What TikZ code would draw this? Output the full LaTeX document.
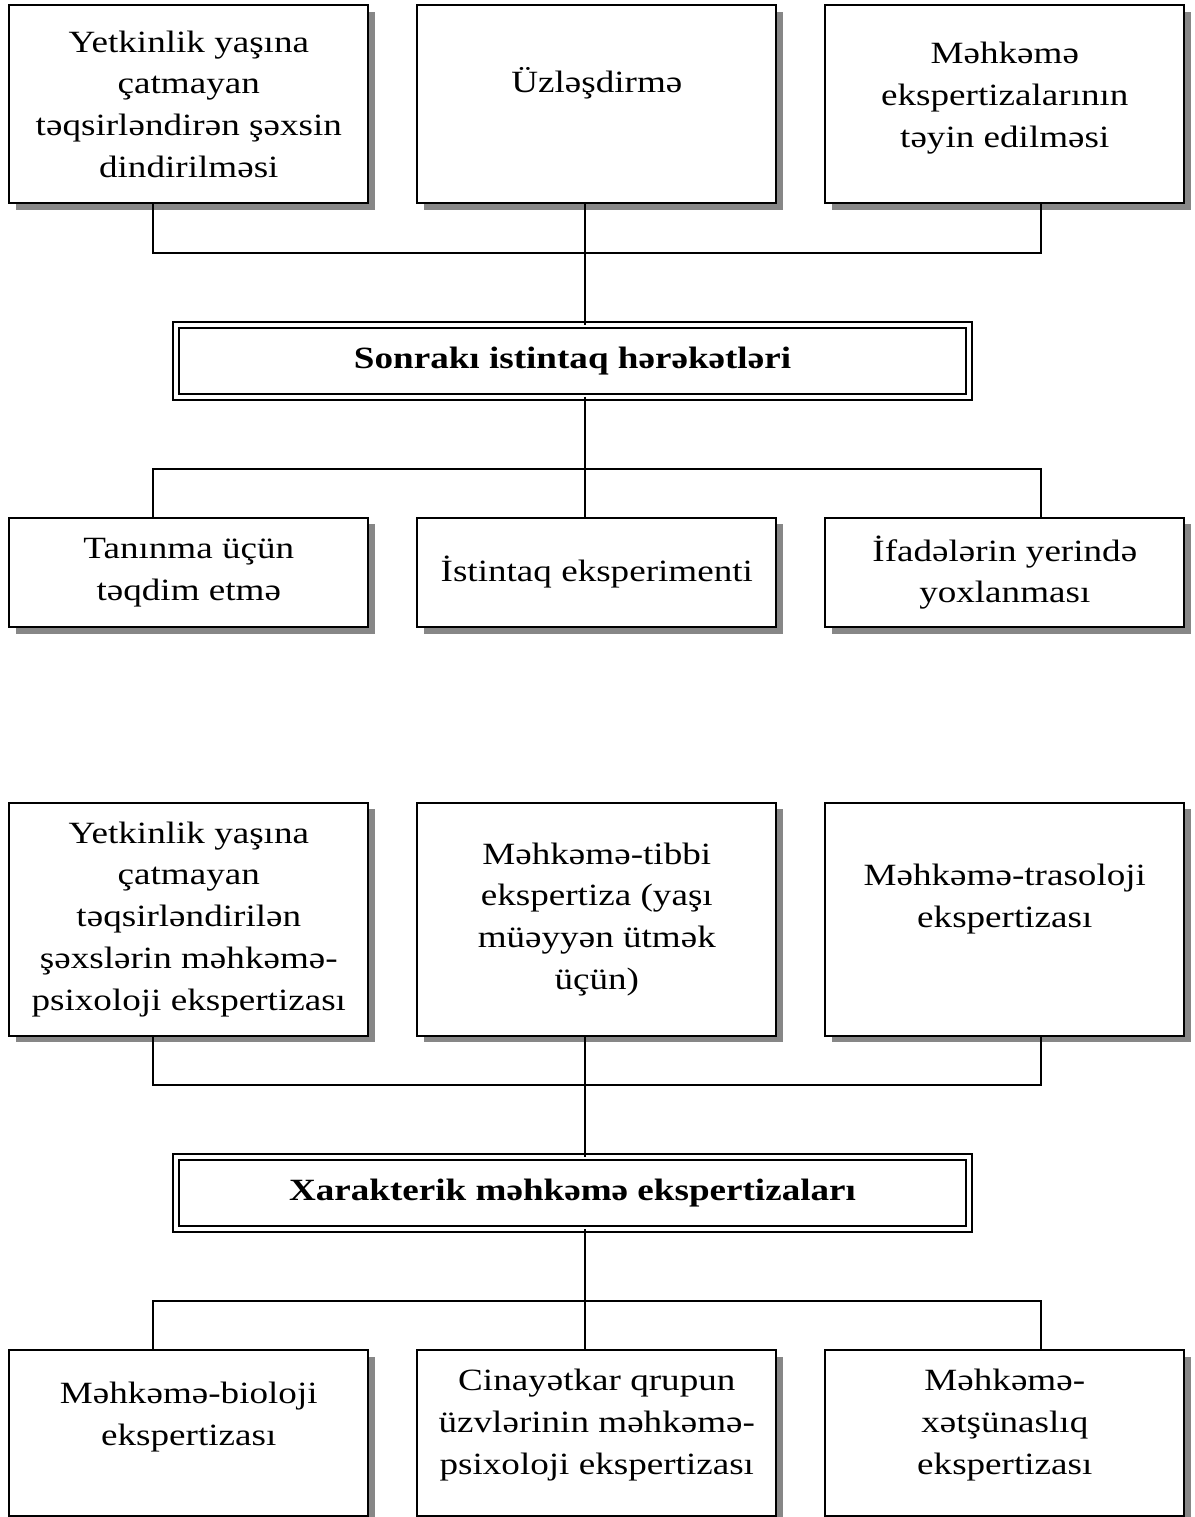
\documentclass[tikz,border=0pt]{standalone}
\usepackage{fontspec}
\setmainfont{Liberation Serif}[FakeStretch=1.2]
\usetikzlibrary{positioning, shadows}

\begin{document}
\begin{tikzpicture}[
    node distance=1.225cm,
    box/.style={draw, line width=0.05cm, fill=white, align=center, outer sep=0pt,
        minimum width=8.975cm, font=\fontsize{22}{29.7}\selectfont,
        drop shadow={shadow xshift=0.165cm, shadow yshift=-0.165cm, fill=black!47, opacity=1}},
    head/.style={draw, line width=0.05cm, double, double distance=0.1cm, align=center, outer sep=0pt,
        minimum width=19.825cm, minimum height=1.8cm, font=\fontsize{22}{29.7}\selectfont\bfseries},
    lift/.style={text depth=#1},
    link/.style={line width=0.05cm}
]
\useasboundingbox (0,0) rectangle (29.875,-37.925);

% first scheme
\node[box, minimum height=4.94cm] (t1) at (4.72,-2.604) {Yetkinlik yaşına\\çatmayan\\təqsirləndirən şəxsin\\dindirilməsi};
\node[box, minimum height=4.94cm, lift=1.2cm, right=of t1] (t2) {Üzləşdirmə};
\node[box, minimum height=4.94cm, lift=0.475cm, right=of t2] (t3) {Məhkəmə\\ekspertizalarının\\təyin edilməsi};

\node[head] (h1) at (14.3125,-9.015) {Sonrakı istintaq hərəkətləri};

\node[box, minimum height=2.74cm] (r1) at (4.72,-14.3125) {Tanınma üçün\\təqdim etmə};
\node[box, minimum height=2.74cm, right=of r1] (r2) {İstintaq eksperimenti};
\node[box, minimum height=2.74cm, right=of r2] (r3) {İfadələrin yerində\\yoxlanması};

% second scheme
\node[box, minimum height=5.82cm] (s1) at (4.72,-22.98) {Yetkinlik yaşına\\çatmayan\\təqsirləndirilən\\şəxslərin məhkəmə-\\psixoloji ekspertizası};
\node[box, minimum height=5.82cm, right=of s1] (s2) {Məhkəmə-tibbi\\ekspertiza (yaşı\\müəyyən ütmək\\üçün)};
\node[box, minimum height=5.82cm, lift=1.175cm, right=of s2] (s3) {Məhkəmə-trasoloji\\ekspertizası};

\node[head] (h2) at (14.3125,-29.83) {Xarakterik məhkəmə ekspertizaları};

\node[box, minimum height=4.14cm, lift=0.975cm] (e1) at (4.72,-35.83) {Məhkəmə-bioloji\\ekspertizası};
\node[box, minimum height=4.14cm, lift=0.575cm, right=of e1] (e2) {Cinayətkar qrupun\\üzvlərinin məhkəmə-\\psixoloji ekspertizası};
\node[box, minimum height=4.14cm, lift=0.575cm, right=of e2] (e3) {Məhkəmə-\\xətşünaslıq\\ekspertizası};

% connector columns and bus lines
\coordinate (xl) at (3.8175,0);
\coordinate (xm) at (14.625,0);
\coordinate (xr) at (26.025,0);
\coordinate (busA) at (0,-6.3175);
\coordinate (busB) at (0,-11.725);
\coordinate (busC) at (0,-27.125);
\coordinate (busD) at (0,-32.52);

\draw[link] (t1.south -| xl) |- (xr |- busA) -- (t3.south -| xr);
\draw[link] (t2.south -| xm) -- (h1.north -| xm);
\draw[link] (h1.south -| xm) -- (r2.north -| xm);
\draw[link] (r1.north -| xl) |- (xr |- busB) -- (r3.north -| xr);

\draw[link] (s1.south -| xl) |- (xr |- busC) -- (s3.south -| xr);
\draw[link] (s2.south -| xm) -- (h2.north -| xm);
\draw[link] (h2.south -| xm) -- (e2.north -| xm);
\draw[link] (e1.north -| xl) |- (xr |- busD) -- (e3.north -| xr);
\end{tikzpicture}
\end{document}
